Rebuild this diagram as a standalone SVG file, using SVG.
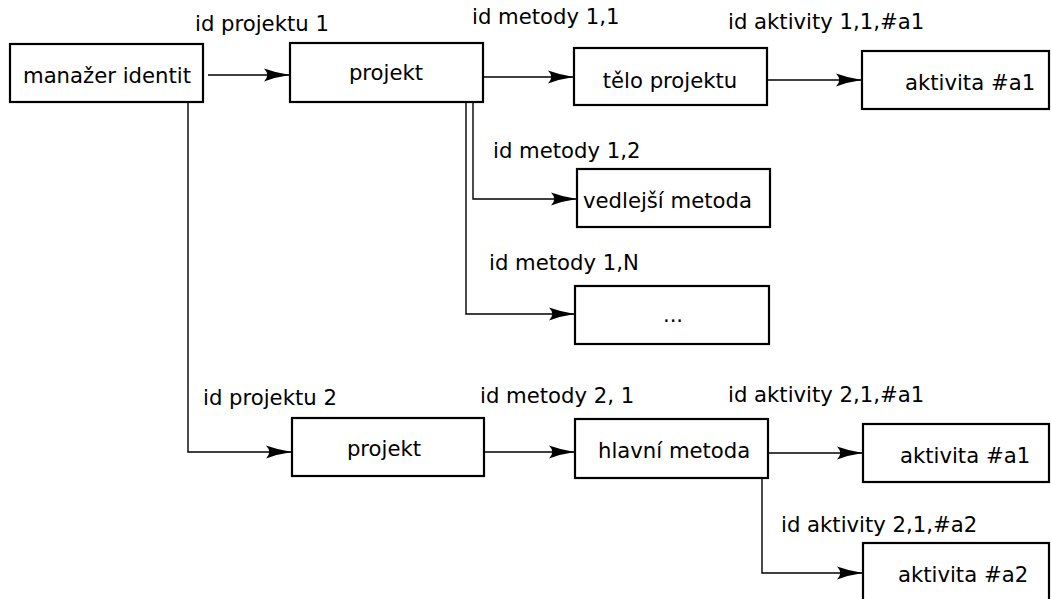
<svg xmlns="http://www.w3.org/2000/svg" width="1051" height="599" viewBox="0 0 1051 599">
  <style>
    .box { fill: #ffffff; stroke: #000000; stroke-width: 2.2; }
    .lbl { font-family: "DejaVu Sans", "Noto Sans", sans-serif; font-size: 21.2px; fill: #000000; }
    .mid { text-anchor: middle; }
    .wire { fill: none; stroke: #000000; stroke-width: 1.4; marker-end: url(#head); }
  </style>
  <defs>
    <marker id="head" markerUnits="userSpaceOnUse" viewBox="0 0 26 14" markerWidth="26" markerHeight="14" refX="26" refY="7" orient="auto">
      <path d="M0,0.5 Q13,5.2 26,7 Q13,8.8 0,13.5 Q6.5,7 0,0.5 Z" fill="#000000"/>
    </marker>
  </defs>
  <rect width="1051" height="599" fill="#ffffff"/>

  <!-- connectors -->
  <g id="connectors">
    <path class="wire" d="M208,75 H290"/>
    <path class="wire" d="M483,77 H574"/>
    <path class="wire" d="M767,80 H862"/>
    <path class="wire" d="M473,102 V199 H577"/>
    <path class="wire" d="M466,102 V314 H575"/>
    <path class="wire" d="M188,102 V452 H292"/>
    <path class="wire" d="M484,452 H575"/>
    <path class="wire" d="M768,453 H863"/>
    <path class="wire" d="M762,478 V573 H863"/>
  </g>

  <!-- edge labels -->
  <g id="labels">
    <text class="lbl" x="195" y="31">id projektu 1</text>
    <text class="lbl" x="472" y="24">id metody 1,1</text>
    <text class="lbl" x="728" y="29">id aktivity 1,1,#a1</text>
    <text class="lbl" x="493" y="158">id metody 1,2</text>
    <text class="lbl" x="489" y="270">id metody 1,N</text>
    <text class="lbl" x="203" y="405">id projektu 2</text>
    <text class="lbl" x="480" y="403">id metody 2, 1</text>
    <text class="lbl" x="728" y="402">id aktivity 2,1,#a1</text>
    <text class="lbl" x="781" y="532">id aktivity 2,1,#a2</text>
  </g>

  <g id="manazer">
    <rect class="box" x="10" y="44" width="193" height="58"/>
    <text class="lbl" x="23" y="83">manažer identit</text>
  </g>
  <g id="projekt1">
    <rect class="box" x="290" y="43" width="193" height="59"/>
    <text class="lbl mid" x="386" y="80">projekt</text>
  </g>
  <g id="telo">
    <rect class="box" x="574" y="48" width="193" height="57"/>
    <text class="lbl mid" x="670" y="88">tělo projektu</text>
  </g>
  <g id="aktivita11">
    <rect class="box" x="862" y="51" width="187" height="58"/>
    <text class="lbl" x="905" y="90">aktivita #a1</text>
  </g>
  <g id="vedlejsi">
    <rect class="box" x="577" y="169" width="193" height="58"/>
    <text class="lbl" x="583" y="208">vedlejší metoda</text>
  </g>
  <g id="dalsi">
    <rect class="box" x="575" y="286" width="194" height="58"/>
    <text class="lbl mid" x="673" y="322">...</text>
  </g>
  <g id="projekt2">
    <rect class="box" x="292" y="418" width="192" height="58"/>
    <text class="lbl mid" x="384" y="456">projekt</text>
  </g>
  <g id="hlavni">
    <rect class="box" x="575" y="419" width="193" height="59"/>
    <text class="lbl" x="598" y="458">hlavní metoda</text>
  </g>
  <g id="aktivita21">
    <rect class="box" x="863" y="424" width="186" height="58"/>
    <text class="lbl" x="900" y="463">aktivita #a1</text>
  </g>
  <g id="aktivita22">
    <rect class="box" x="863" y="543" width="186" height="60"/>
    <text class="lbl" x="898" y="582">aktivita #a2</text>
  </g>
</svg>
